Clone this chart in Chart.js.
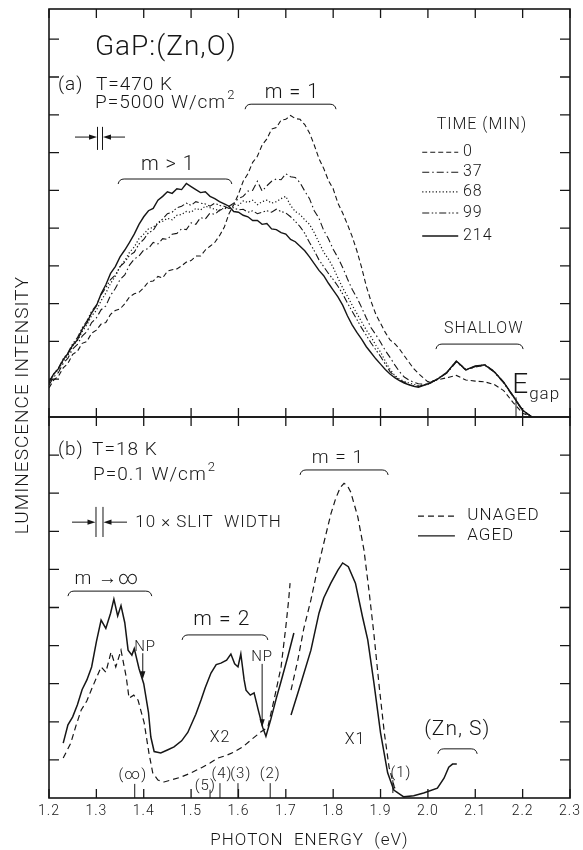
<!DOCTYPE html>
<html>
<head>
<meta charset="utf-8">
<script src="https://cdn.jsdelivr.net/npm/chart.js@4.4.1/dist/chart.umd.min.js"></script>
<style>
  html, body { margin: 0; padding: 0; background: #fff; overflow: hidden; }
  #wrap { position: relative; width: 583px; height: 850px; }
  #wrap canvas { position: absolute; left: 0; top: 0; }
</style>
</head>
<body>
<div id="wrap">
  <canvas id="lower" width="583" height="850"></canvas>
  <canvas id="upper" width="583" height="850"></canvas>
</div>
<script>
// GaP:(Zn,O) luminescence, two panels sharing the photon energy axis

const ink = '#161616';
const face = 'Roboto, "Liberation Sans", sans-serif';
const weight = 300;

// shared x axis (eV) and the unlabelled intensity tick marks of each panel
const energyTicks = ['1.2', '1.3', '1.4', '1.5', '1.6', '1.7', '1.8', '1.9', '2.0', '2.1', '2.2', '2.3'];
const marksA = [1, 2, 3, 4, 5, 6, 7, 8, 9, 10];
const marksB = [1, 2, 3, 4, 5, 6, 7, 8, 9];

/* (a) T = 470 K, spectra after ageing for 0 ... 214 min */
const timeLabels = ['0', '37', '68', '99', '214'];
const energyA = [1.20, 1.21, 1.22, 1.23, 1.24, 1.25, 1.26, 1.27, 1.28, 1.29,
                 1.30, 1.31, 1.32, 1.33, 1.34, 1.35, 1.36, 1.37, 1.38, 1.39,
                 1.40, 1.41, 1.42, 1.43, 1.44, 1.45, 1.46, 1.47, 1.48, 1.49,
                 1.50, 1.51, 1.52, 1.53, 1.54, 1.55, 1.56, 1.57, 1.58, 1.59,
                 1.60, 1.61, 1.62, 1.63, 1.64, 1.65, 1.66, 1.67, 1.68, 1.69,
                 1.70, 1.71, 1.72, 1.73, 1.74, 1.75, 1.76, 1.77, 1.78, 1.79,
                 1.80, 1.81, 1.82, 1.83, 1.84, 1.85, 1.86, 1.87, 1.88, 1.89,
                 1.90, 1.91, 1.92, 1.93, 1.94, 1.95, 1.96, 1.97, 1.98,
                 2.00, 2.02, 2.04, 2.06, 2.08, 2.10, 2.12, 2.14, 2.16, 2.18,
                 2.20, 2.22];
const time0 = [0.77, 0.98, 1.08, 1.30, 1.42, 1.66, 1.74, 1.95, 2.00, 2.22,
               2.30, 2.46, 2.50, 2.72, 2.82, 2.86, 3.00, 3.18, 3.26, 3.30,
               3.42, 3.58, 3.60, 3.72, 3.68, 3.86, 3.90, 3.92, 4.00, 4.10,
               4.14, 4.26, 4.26, 4.42, 4.52, 4.62, 4.80, 5.02, 5.38, 5.62,
               5.90, 6.24, 6.44, 6.74, 6.90, 7.20, 7.36, 7.62, 7.66, 7.86,
               7.88, 7.98, 7.90, 7.88, 7.74, 7.52, 7.20, 6.84, 6.58, 6.26,
               6.04, 5.66, 5.40, 5.10, 4.78, 4.40, 3.96, 3.46, 3.06, 2.72,
               2.48, 2.24, 2.04, 1.94, 1.80, 1.62, 1.45, 1.28, 1.15,
               0.93, 0.98, 1.04, 1.10, 0.98, 0.95, 0.93, 0.86, 0.70, 0.38,
               0.10, 0.00];
const time37 = [0.85, 1.06, 1.18, 1.42, 1.56, 1.80, 1.92, 2.14, 2.26, 2.50,
                2.62, 2.84, 2.94, 3.22, 3.40, 3.64, 3.76, 4.02, 4.18, 4.26,
                4.42, 4.46, 4.62, 4.58, 4.72, 4.70, 4.84, 4.86, 4.98, 4.96,
                5.14, 5.10, 5.28, 5.24, 5.40, 5.36, 5.48, 5.50, 5.58, 5.66,
                5.78, 5.84, 5.98, 6.00, 6.24, 5.98, 6.12, 6.24, 6.30, 6.28,
                6.44, 6.36, 6.34, 6.20, 5.98, 5.78, 5.46, 5.26, 4.94, 4.72,
                4.44, 4.22, 3.96, 3.66, 3.38, 3.16, 2.90, 2.62, 2.36, 2.18,
                1.98, 1.76, 1.58, 1.38, 1.20, 1.06, 0.98, 0.92, 0.88,
                0.86, 1.00, 1.16, 1.46, 1.24, 1.32, 1.37, 1.19, 0.90, 0.54,
                0.16, 0.00];
const time68 = [0.90, 1.12, 1.26, 1.48, 1.64, 1.88, 2.02, 2.26, 2.44, 2.68,
                2.82, 3.08, 3.28, 3.54, 3.72, 3.98, 4.14, 4.36, 4.50, 4.72,
                4.84, 4.98, 5.02, 5.14, 5.18, 5.26, 5.22, 5.34, 5.36, 5.44,
                5.42, 5.52, 5.48, 5.58, 5.54, 5.50, 5.46, 5.54, 5.56, 5.64,
                5.60, 5.72, 5.68, 5.74, 5.62, 5.70, 5.74, 5.66, 5.70, 5.78,
                5.84, 5.60, 5.44, 5.36, 5.22, 5.10, 4.88, 4.62, 4.36, 4.18,
                3.96, 3.68, 3.42, 3.20, 2.96, 2.74, 2.52, 2.30, 2.12, 1.90,
                1.72, 1.48, 1.26, 1.10, 1.00, 0.94, 0.90, 0.86, 0.83,
                0.86, 1.01, 1.17, 1.47, 1.25, 1.33, 1.38, 1.20, 0.91, 0.55,
                0.17, 0.00];
const time99 = [0.92, 1.14, 1.30, 1.54, 1.70, 1.94, 2.10, 2.36, 2.54, 2.80,
                2.96, 3.24, 3.42, 3.64, 3.76, 3.98, 4.10, 4.28, 4.36, 4.58,
                4.70, 4.88, 4.94, 5.14, 5.24, 5.38, 5.42, 5.54, 5.58, 5.66,
                5.60, 5.70, 5.66, 5.64, 5.58, 5.66, 5.60, 5.58, 5.52, 5.54,
                5.48, 5.50, 5.42, 5.46, 5.38, 5.42, 5.46, 5.42, 5.50, 5.44,
                5.40, 5.30, 5.18, 5.04, 4.86, 4.62, 4.40, 4.16, 3.98, 3.80,
                3.64, 3.46, 3.26, 3.02, 2.80, 2.58, 2.36, 2.16, 1.96, 1.78,
                1.60, 1.40, 1.20, 1.08, 0.98, 0.92, 0.86, 0.83, 0.81,
                0.87, 1.00, 1.18, 1.48, 1.26, 1.34, 1.39, 1.21, 0.92, 0.56,
                0.18, 0.00];
const time214 = [0.93, 1.14, 1.28, 1.52, 1.68, 1.90, 2.04, 2.32, 2.50, 2.76,
                 2.94, 3.26, 3.50, 3.80, 3.98, 4.24, 4.42, 4.62, 4.84, 5.10,
                 5.30, 5.46, 5.52, 5.74, 5.84, 5.96, 5.92, 6.04, 6.02, 6.18,
                 6.10, 6.02, 5.94, 5.96, 5.84, 5.78, 5.70, 5.64, 5.58, 5.44,
                 5.42, 5.34, 5.30, 5.20, 5.20, 5.10, 5.12, 4.98, 4.96, 4.88,
                 4.84, 4.70, 4.64, 4.52, 4.40, 4.24, 4.06, 3.88, 3.74, 3.54,
                 3.36, 3.18, 2.96, 2.68, 2.44, 2.24, 2.06, 1.86, 1.70, 1.54,
                 1.40, 1.26, 1.14, 1.04, 0.96, 0.90, 0.85, 0.81, 0.79,
                 0.88, 1.00, 1.18, 1.48, 1.25, 1.35, 1.38, 1.20, 0.92, 0.55,
                 0.18, 0.00];

/* (b) T = 18 K, unaged vs aged; m = 1 band recorded as a separate trace */
const ageLabels = ['UNAGED', 'AGED'];
const unagedE1 = [1.230, 1.246, 1.257, 1.268, 1.280, 1.289, 1.300, 1.310, 1.320, 1.331,
                  1.341, 1.352, 1.363, 1.369, 1.379, 1.388, 1.401, 1.411, 1.419, 1.430,
                  1.443, 1.460, 1.479, 1.500, 1.521, 1.540, 1.557, 1.575, 1.591, 1.610,
                  1.626, 1.647, 1.662, 1.675, 1.690, 1.700, 1.706, 1.709];
const unagedI1 = [1.05, 1.44, 1.90, 2.31, 2.55, 2.83, 3.15, 3.44, 3.30, 3.83,
                  3.44, 3.88, 3.18, 2.62, 2.70, 2.57, 1.97, 1.18, 0.66, 0.47,
                  0.42, 0.48, 0.55, 0.66, 0.79, 0.92, 1.05, 1.12, 1.21, 1.35,
                  1.52, 1.73, 1.86, 2.57, 3.44, 4.49, 5.20, 5.64];
const unagedE2 = [1.711, 1.725, 1.738, 1.753, 1.765, 1.780, 1.795, 1.805, 1.815, 1.823,
                  1.830, 1.837, 1.852, 1.865, 1.876, 1.886, 1.897, 1.908, 1.918, 1.929,
                  1.935];
const unagedI2 = [2.83, 3.60, 4.45, 5.20, 5.90, 6.68, 7.45, 7.85, 8.15, 8.26,
                  8.20, 8.03, 7.38, 6.51, 5.40, 4.30, 2.95, 1.71, 0.81, 0.29,
                  0.15];
const agedE1 = [1.230, 1.240, 1.250, 1.260, 1.270, 1.280, 1.290, 1.300, 1.310, 1.320,
                1.330, 1.337, 1.345, 1.352, 1.360, 1.367, 1.375, 1.380, 1.390, 1.400,
                1.410, 1.415, 1.422, 1.436, 1.450, 1.464, 1.480, 1.493, 1.510, 1.521,
                1.530, 1.542, 1.553, 1.563, 1.575, 1.584, 1.592, 1.599, 1.605, 1.612,
                1.616, 1.625, 1.633, 1.642, 1.651, 1.658, 1.668, 1.680, 1.689, 1.704,
                1.717];
const agedI1 = [1.44, 1.92, 2.13, 2.45, 2.85, 3.10, 3.44, 4.10, 4.67, 4.45,
                4.85, 5.22, 4.78, 5.05, 4.60, 3.88, 3.75, 3.92, 3.40, 3.00,
                2.25, 1.60, 1.22, 1.18, 1.26, 1.34, 1.50, 1.72, 2.20, 2.57,
                2.90, 3.28, 3.50, 3.54, 3.62, 3.78, 3.52, 3.44, 3.78, 3.10,
                2.83, 2.70, 2.76, 2.30, 1.86, 1.62, 2.05, 2.62, 3.02, 3.70,
                4.33];
const agedE2 = [1.711, 1.732, 1.753, 1.770, 1.780, 1.795, 1.810, 1.820, 1.832, 1.847,
                1.862, 1.873, 1.886, 1.900, 1.915, 1.928, 1.949, 1.970, 1.991, 2.020,
                2.034, 2.044, 2.052, 2.061];
const agedI2 = [2.18, 3.02, 3.88, 4.85, 5.25, 5.64, 5.98, 6.17, 6.07, 5.64,
                4.75, 4.15, 3.02, 1.71, 0.66, 0.21, 0.03, 0.06, 0.13, 0.26,
                0.52, 0.81, 0.89, 0.89];

// line styles
const timeDash = [[5, 3], [7, 3, 1.5, 3], [1.2, 2.2], [7, 2.5, 1.5, 2, 1.5, 2.5], []];
const timeWidth = [1.1, 1.1, 1.2, 1.1, 1.4];
const ageDash = [[6, 4], []];

const pairs = (xs, ys) => xs.map((e, i) => ({ x: e, y: ys[i] }));
const font = size => `${weight} ${size}px ${face}`;

// drawing helpers bound to a chart's own scales
function pen(chart) {
  const ctx = chart.ctx;
  const X = e => chart.scales.x.getPixelForValue(e);
  const Y = v => chart.scales.y.getPixelForValue(v);
  return {
    X, Y, ctx,
    text(str, e, v, size, align = 'center') {
      ctx.font = font(size);
      ctx.textAlign = align;
      ctx.textBaseline = 'middle';
      ctx.fillText(str, X(e), Y(v));
      return X(e) + ctx.measureText(str).width;
    },
    bracket(e1, e2, v) {
      const x1 = X(e1), x2 = X(e2), y = Y(v);
      ctx.beginPath();
      ctx.moveTo(x1, y + 5);
      ctx.quadraticCurveTo(x1 + 1, y, x1 + 6, y);
      ctx.lineTo(x2 - 6, y);
      ctx.quadraticCurveTo(x2 - 1, y, x2, y + 5);
      ctx.stroke();
    },
    vline(e, v1, v2) {
      ctx.beginPath();
      ctx.moveTo(X(e), Y(v1));
      ctx.lineTo(X(e), Y(v2));
      ctx.stroke();
    },
    arrow(x1, y1, x2, y2) {
      const a = Math.atan2(y2 - y1, x2 - x1);
      ctx.beginPath();
      ctx.moveTo(x1, y1);
      ctx.lineTo(x2 - 6 * Math.cos(a), y2 - 6 * Math.sin(a));
      ctx.stroke();
      ctx.beginPath();
      ctx.moveTo(x2, y2);
      ctx.lineTo(x2 - 8 * Math.cos(a) + 2.6 * Math.sin(a), y2 - 8 * Math.sin(a) - 2.6 * Math.cos(a));
      ctx.lineTo(x2 - 8 * Math.cos(a) - 2.6 * Math.sin(a), y2 - 8 * Math.sin(a) + 2.6 * Math.cos(a));
      ctx.closePath();
      ctx.fill();
    },
    slit(e, v, vTop, vBot, half, eFrom, eTo) {
      const xc = X(e);
      ctx.beginPath();
      ctx.moveTo(xc - half, Y(vTop)); ctx.lineTo(xc - half, Y(vBot));
      ctx.moveTo(xc + half, Y(vTop)); ctx.lineTo(xc + half, Y(vBot));
      ctx.stroke();
      this.arrow(X(eFrom), Y(v), xc - half - 0.5, Y(v));
      this.arrow(X(eTo), Y(v), xc + half + 0.5, Y(v));
    },
    sample(e1, e2, v, dash, width) {
      ctx.save();
      ctx.setLineDash(dash);
      ctx.lineWidth = width;
      ctx.beginPath();
      ctx.moveTo(X(e1), Y(v));
      ctx.lineTo(X(e2), Y(v));
      ctx.stroke();
      ctx.restore();
    }
  };
}

// frame with inward ticks on all four sides, then the lettering
function framePlugin(marks, notes) {
  return {
    id: 'frame',
    beforeDraw(chart) { chart.ctx.letterSpacing = '1px'; },
    afterDraw(chart) {
      const { ctx, chartArea: a } = chart;
      const x = chart.scales.x, y = chart.scales.y;
      ctx.save();
      ctx.strokeStyle = ink;
      ctx.fillStyle = ink;
      ctx.lineWidth = 1.6;
      ctx.strokeRect(a.left, a.top, a.right - a.left, a.bottom - a.top);
      ctx.lineWidth = 1.3;
      ctx.beginPath();
      energyTicks.forEach(t => {
        const px = x.getPixelForValue(Number(t));
        ctx.moveTo(px, a.top); ctx.lineTo(px, a.top + 9);
        ctx.moveTo(px, a.bottom); ctx.lineTo(px, a.bottom - 9);
      });
      marks.forEach(m => {
        const py = y.getPixelForValue(m);
        ctx.moveTo(a.left, py); ctx.lineTo(a.left + 10, py);
        ctx.moveTo(a.right, py); ctx.lineTo(a.right - 10, py);
      });
      ctx.stroke();
      ctx.lineWidth = 1;
      ctx.letterSpacing = '1px';
      notes(pen(chart));
      ctx.restore();
    }
  };
}

const notesA = p => {
  const c = p.ctx;
  p.text('GaP:(Zn,O)', 1.297, 9.77, 28, 'left');
  p.text('(a)', 1.219, 8.79, 19, 'left');
  p.text('T=470 K', 1.299, 8.79, 19, 'left');
  const end = p.text('P=5000 W/cm', 1.297, 8.31, 19, 'left');
  c.font = font(13);
  c.fillText('2', end + 1, p.Y(8.31) - 7);
  p.slit(1.3077, 7.41, 7.68, 7.07, 2.5, 1.2549, 1.3605);
  p.text('m > 1', 1.451, 6.67, 20);
  p.bracket(1.346, 1.586, 6.30);
  p.text('m = 1', 1.713, 8.58, 20);
  p.bracket(1.614, 1.806, 8.28);
  p.text('TIME (MIN)', 2.114, 7.73, 16);
  const rows = [7.01, 6.48, 5.96, 5.40, 4.79];
  timeLabels.forEach((t, i) => {
    p.sample(1.988, 2.064, rows[i], timeDash[i], timeWidth[i]);
    p.text(t, 2.074, rows[i], 16, 'left');
  });
  p.text('SHALLOW', 2.118, 2.33, 16);
  p.bracket(2.017, 2.201, 1.93);
  const eEnd = p.text('E', 2.178, 0.82, 28, 'left');
  c.font = font(17);
  c.fillText('gap', eEnd, p.Y(0.60));
  p.vline(2.186, 0.52, 0);
};

const notesB = p => {
  p.text('(b)', 1.219, 9.13, 19, 'left');
  p.text('T=18 K', 1.291, 9.13, 19, 'left');
  const end = p.text('P=0.1 W/cm', 1.293, 8.48, 19, 'left');
  p.ctx.font = font(13);
  p.ctx.fillText('2', end + 1, p.Y(8.48) - 7);
  p.slit(1.3066, 7.24, 7.64, 6.85, 3.5, 1.2486, 1.3647);
  p.text('10 × SLIT  WIDTH', 1.382, 7.22, 17, 'left');
  p.text('m →∞', 1.322, 5.75, 19);
  p.bracket(1.240, 1.417, 5.43);
  p.text('m = 2', 1.565, 4.67, 21);
  p.bracket(1.481, 1.662, 4.28);
  p.text('NP', 1.403, 3.96, 15);
  p.arrow(p.X(1.398), p.Y(3.80), p.X(1.398), p.Y(3.12));
  p.text('NP', 1.650, 3.70, 15);
  p.arrow(p.X(1.650), p.Y(3.52), p.X(1.650), p.Y(1.86));
  p.text('X2', 1.561, 1.57, 16);
  p.text('(∞)', 1.377, 0.60, 15);
  p.vline(1.381, 0.37, 0);
  p.text('(5)', 1.530, 0.31, 15);
  p.vline(1.540, 0.22, 0);
  p.text('(4)', 1.565, 0.63, 15);
  p.vline(1.561, 0.39, 0);
  p.text('(3)', 1.605, 0.63, 15);
  p.vline(1.599, 0.39, 0);
  p.text('(2)', 1.667, 0.63, 15);
  p.vline(1.667, 0.39, 0);
  p.text('(1)', 1.943, 0.66, 15);
  p.vline(1.926, 0.47, 0.13);
  p.text('m = 1', 1.810, 8.92, 19);
  p.bracket(1.730, 1.916, 8.61);
  const rows = [7.40, 6.88];
  ageLabels.forEach((t, i) => {
    p.sample(1.979, 2.057, rows[i], ageDash[i], 1.3);
    p.text(t, 2.083, rows[i], 17, 'left');
  });
  p.text('X1', 1.846, 1.52, 16);
  p.text('(Zn, S)', 2.062, 1.78, 21);
  p.bracket(2.021, 2.104, 1.29);
  // vertical axis title, spanning both panels
  const c = p.ctx;
  c.save();
  c.translate(23, 405);
  c.rotate(-Math.PI / 2);
  c.font = font(19);
  c.textAlign = 'center';
  c.textBaseline = 'middle';
  c.fillText('LUMINESCENCE INTENSITY', 0, 0);
  c.restore();
};

const line = (data, dash, width) => ({
  data, borderColor: ink, borderWidth: width, borderDash: dash,
  pointRadius: 0, tension: 0, fill: false
});

const base = {
  responsive: false,
  animation: false,
  events: [],
  plugins: { legend: { display: false }, tooltip: { enabled: false } }
};

// lower panel (b) owns the labelled energy axis
new Chart(document.getElementById('lower'), {
  type: 'line',
  data: {
    datasets: [
      line(pairs(unagedE1, unagedI1), ageDash[0], 1.2),
      line(pairs(unagedE2, unagedI2), ageDash[0], 1.2),
      line(pairs(agedE1, agedI1), ageDash[1], 1.5),
      line(pairs(agedE2, agedI2), ageDash[1], 1.5)
    ]
  },
  options: {
    ...base,
    layout: { padding: { left: 49, right: 13, top: 417, bottom: 0 } },
    scales: {
      x: {
        type: 'linear', min: 1.2, max: 2.3,
        grid: { display: false }, border: { display: false },
        ticks: {
          stepSize: 0.1, autoSkip: false, maxRotation: 0, padding: -3,
          color: ink, font: { family: face, size: 14, weight },
          callback: v => energyTicks.find(t => Math.abs(Number(t) - v) < 1e-6) ?? ''
        },
        title: {
          display: true, text: 'PHOTON  ENERGY  (eV)', color: ink,
          font: { family: face, size: 17, weight }, padding: { top: 0, bottom: -1 }
        },
        afterFit: s => { s.height = 52; }
      },
      y: { type: 'linear', min: 0, max: 10, display: false }
    }
  },
  plugins: [framePlugin(marksB, notesB)]
});

// upper panel (a)
const timeSeries = [time0, time37, time68, time99, time214];
new Chart(document.getElementById('upper'), {
  type: 'line',
  data: {
    datasets: timeSeries.map((s, i) => ({
      label: timeLabels[i], ...line(pairs(energyA, s), timeDash[i], timeWidth[i])
    }))
  },
  options: {
    ...base,
    layout: { padding: { left: 49, right: 13, top: 9, bottom: 433 } },
    scales: {
      x: { type: 'linear', min: 1.2, max: 2.3, display: false },
      y: { type: 'linear', min: 0, max: 10.8, display: false }
    }
  },
  plugins: [framePlugin(marksA, notesA)]
});
</script>
</body>
</html>
